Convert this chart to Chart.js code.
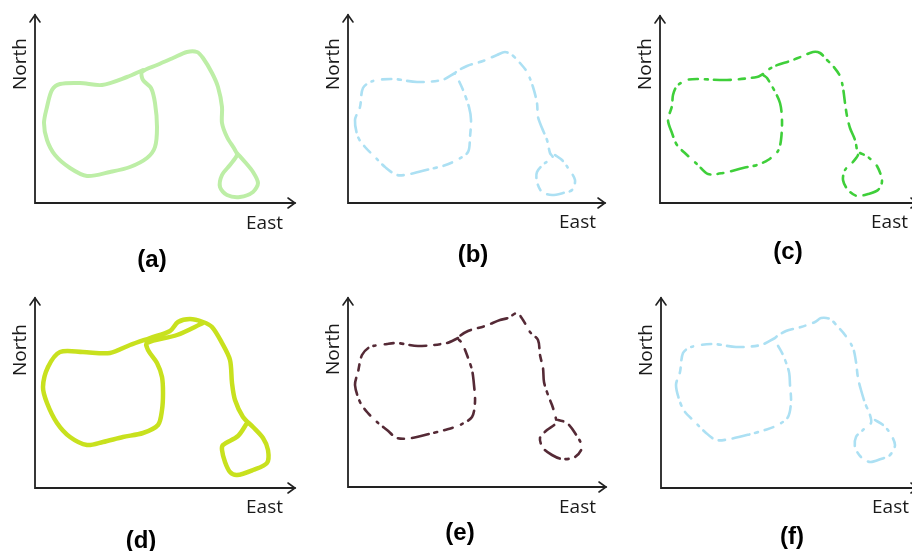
<!DOCTYPE html>
<html>
<head>
<meta charset="utf-8">
<title>Trajectories</title>
<script src="https://cdn.jsdelivr.net/npm/chart.js@4.4.1/dist/chart.umd.min.js"></script>
<style>
    html, body { margin: 0; padding: 0; background: #fff; }
    #wrap { position: relative; width: 912px; height: 551px; overflow: hidden; }
    #wrap canvas { position: absolute; left: 0; top: 0; }
</style>
</head>
<body>
<div id="wrap"></div>
<script>
"use strict";

/**----------------------------------------------------------------------
 * [Trajectory samples, East / North]
 *--------------------------------------------------------------*/
const aEast  = [108, 92, 67, 45, 25, 17, 12, 9, 12, 20, 35, 52, 75, 95, 112, 120, 122, 120, 116, 108, 107, 122, 138, 152, 162, 168, 177, 183, 187, 187, 192, 200, 202, 195, 187, 185, 192, 205, 218, 223, 218, 210, 202];
const aNorth = [133, 126, 118, 120, 119, 113, 96, 80, 63, 48, 35, 27, 31, 36, 45, 56, 76, 100, 115, 123, 131, 138, 145, 151, 151, 145, 130, 116, 96, 80, 66, 53, 48, 38, 28, 16, 8, 6, 11, 20, 31, 41, 50];

const bEast  = [107, 94, 69, 45, 25, 15, 12, 7, 10, 17, 27, 37, 49, 62, 82, 95, 109, 120, 122, 123, 121, 115, 109, 107, 119, 135, 149, 157, 164, 172, 179, 185, 189, 190, 194, 199, 202, 205, 197, 189, 189, 194, 204, 215, 224, 227, 220, 214, 207];
const bNorth = [130, 123, 121, 124, 122, 115, 96, 83, 66, 56, 46, 36, 28, 29, 34, 37, 43, 51, 66, 83, 96, 113, 126, 130, 137, 142, 148, 151, 148, 140, 131, 116, 100, 86, 75, 63, 50, 45, 40, 31, 21, 11, 8, 10, 13, 23, 35, 43, 48];

const cEast  = [103, 97, 67, 37, 27, 17, 13, 12, 8, 12, 17, 27, 38, 48, 63, 83, 97, 108, 118, 121, 122, 120, 113, 107, 103, 115, 130, 143, 153, 160, 167, 173, 180, 183, 185, 187, 190, 195, 197, 198, 192, 185, 183, 188, 197, 208, 218, 222, 217, 208, 200];
const cNorth = [129, 126, 123, 124, 123, 117, 108, 97, 83, 70, 58, 48, 38, 29, 30, 35, 38, 43, 52, 63, 83, 100, 115, 125, 129, 137, 142, 147, 151, 150, 143, 137, 127, 115, 100, 87, 75, 63, 53, 48, 40, 33, 23, 13, 7, 9, 13, 22, 37, 46, 50];

const dEast  = [168, 142, 112, 113, 122, 127, 128, 127, 123, 108, 88, 68, 52, 35, 22, 12, 8, 13, 25, 48, 75, 95, 115, 135, 143, 155, 168, 177, 187, 195, 197, 200, 208, 218, 228, 233, 232, 218, 202, 195, 190, 187, 188, 203, 212];
const dNorth = [165, 153, 145, 138, 125, 111, 95, 78, 63, 55, 51, 46, 43, 51, 65, 85, 101, 121, 136, 136, 135, 143, 150, 157, 166, 169, 166, 161, 145, 128, 105, 88, 71, 61, 50, 38, 25, 18, 13, 16, 26, 38, 43, 52, 65];

const eEast  = [110, 99, 70, 49, 39, 22, 14, 10, 7, 12, 19, 29, 39, 49, 64, 85, 97, 112, 124, 127, 126, 124, 119, 114, 110, 120, 137, 152, 160, 169, 175, 182, 190, 192, 195, 196, 200, 204, 207, 208, 199, 192, 195, 204, 214, 227, 234, 227, 219, 210];
const eNorth = [149, 144, 141, 144, 143, 140, 132, 115, 102, 85, 75, 65, 57, 49, 49, 54, 57, 62, 70, 85, 102, 117, 132, 144, 149, 156, 161, 167, 169, 174, 167, 155, 147, 132, 119, 105, 92, 82, 72, 64, 57, 49, 39, 32, 28, 30, 40, 54, 64, 67];

const fEast  = [114, 100, 75, 52, 30, 22, 19, 15, 19, 24, 34, 44, 55, 69, 90, 104, 117, 127, 130, 129, 128, 122, 115, 114, 125, 140, 154, 160, 169, 177, 184, 192, 195, 197, 200, 204, 209, 210, 202, 195, 194, 200, 209, 220, 229, 234, 229, 222, 214];
const fNorth = [150, 143, 141, 144, 141, 135, 116, 103, 86, 76, 66, 56, 48, 49, 54, 58, 63, 71, 86, 103, 116, 133, 146, 150, 157, 161, 166, 170, 169, 161, 153, 140, 126, 110, 98, 85, 73, 65, 58, 51, 41, 31, 26, 29, 33, 43, 55, 63, 68];

const axisLabels = ['East', 'North'];
const captions = ['(a)', '(b)', '(c)', '(d)', '(e)', '(f)'];

/**----------------------------------------------------------------------
 * [Panel placement and line styles]
 *--------------------------------------------------------------*/
const W = 912, H = 551;
const gappy = [12, 7, 6, 8, 17, 6, 3, 7, 9, 9, 2, 6];

const panels = [
    { east: aEast, north: aNorth, color: '#bdeea6', width: 4,   dash: [],    ox: 35,  oy: 203, xTip: 295, yTip: 15,  northMid: 64,  eastBase: 229, capX: 152, capY: 260 },
    { east: bEast, north: bNorth, color: '#ace0f3', width: 2.6, dash: gappy, ox: 348, oy: 203, xTip: 605, yTip: 15,  northMid: 64,  eastBase: 228, capX: 473, capY: 255 },
    { east: cEast, north: cNorth, color: '#3fcf3a', width: 2.6, dash: gappy, ox: 660, oy: 203, xTip: 918, yTip: 16,  northMid: 64,  eastBase: 228, capX: 788, capY: 252 },
    { east: dEast, north: dNorth, color: '#c8e11e', width: 4.5, dash: [],    ox: 35,  oy: 488, xTip: 295, yTip: 298, northMid: 350, eastBase: 513, capX: 141, capY: 541 },
    { east: eEast, north: eNorth, color: '#552a36', width: 2.6, dash: gappy, ox: 348, oy: 487, xTip: 606, yTip: 298, northMid: 349, eastBase: 513, capX: 460, capY: 533 },
    { east: fEast, north: fNorth, color: '#ace0f3', width: 2.6, dash: gappy, ox: 661, oy: 488, xTip: 918, yTip: 298, northMid: 350, eastBase: 513, capX: 792, capY: 537 }
];

/**----------------------------------------------------------------------
 * [Plugin: arrowed axes, axis names and panel caption]
 *--------------------------------------------------------------*/
const axisArrows = {
    id: 'axisArrows',
    afterDraw(chart, args, opts) {
        const ctx = chart.ctx;
        const p = opts.panel;

        ctx.save();
        ctx.strokeStyle = '#222';
        ctx.lineWidth = 1.8;
        ctx.lineCap = 'round';
        ctx.beginPath();
        ctx.moveTo(p.ox, p.yTip);
        ctx.lineTo(p.ox, p.oy);
        ctx.lineTo(p.xTip, p.oy);
        ctx.stroke();

        ctx.lineWidth = 1.6;
        ctx.beginPath();
        ctx.moveTo(p.ox - 5, p.yTip + 7);
        ctx.lineTo(p.ox, p.yTip);
        ctx.lineTo(p.ox + 5, p.yTip + 7);
        ctx.moveTo(p.xTip - 7, p.oy - 5);
        ctx.lineTo(p.xTip, p.oy);
        ctx.lineTo(p.xTip - 7, p.oy + 5);
        ctx.stroke();

        ctx.fillStyle = '#1a1a1a';
        ctx.font = '19px "Open Sans", sans-serif';
        ctx.textAlign = 'right';
        ctx.textBaseline = 'alphabetic';
        ctx.fillText(axisLabels[0], p.ox + 248, p.eastBase);

        ctx.save();
        ctx.translate(p.ox - 9, p.northMid);
        ctx.rotate(-Math.PI / 2);
        ctx.textAlign = 'center';
        ctx.fillText(axisLabels[1], 0, 0);
        ctx.restore();

        ctx.fillStyle = '#000';
        ctx.font = 'bold 24px "Liberation Sans", Arial, sans-serif';
        ctx.textAlign = 'center';
        ctx.textBaseline = 'middle';
        ctx.fillText(opts.caption, p.capX, p.capY);
        ctx.restore();
    }
};

/**----------------------------------------------------------------------
 * [Build one scatter chart per panel]
 *--------------------------------------------------------------*/
const wrap = document.getElementById('wrap');

panels.forEach(function(p, i) {
    const canvas = document.createElement('canvas');
    canvas.width = W;
    canvas.height = H;
    wrap.appendChild(canvas);

    const right = Math.min(p.xTip, W);

    new Chart(canvas.getContext('2d'), {
        type: 'scatter',
        data: {
            datasets: [{
                data: p.east.map(function(x, k) { return { x: x, y: p.north[k] }; }),
                showLine: true,
                borderColor: p.color,
                borderWidth: p.width,
                borderDash: p.dash,
                borderCapStyle: 'round',
                borderJoinStyle: 'round',
                pointRadius: 0,
                tension: 0.3,
                fill: false,
                clip: false
            }]
        },
        options: {
            responsive: false,
            animation: false,
            layout: {
                padding: { left: p.ox, top: p.yTip, right: W - right, bottom: H - p.oy }
            },
            scales: {
                x: { type: 'linear', display: false, min: 0, max: right - p.ox },
                y: { type: 'linear', display: false, min: 0, max: p.oy - p.yTip }
            },
            plugins: {
                legend: { display: false },
                tooltip: { enabled: false },
                axisArrows: { panel: p, caption: captions[i] }
            }
        },
        plugins: [axisArrows]
    });
});
</script>
</body>
</html>
